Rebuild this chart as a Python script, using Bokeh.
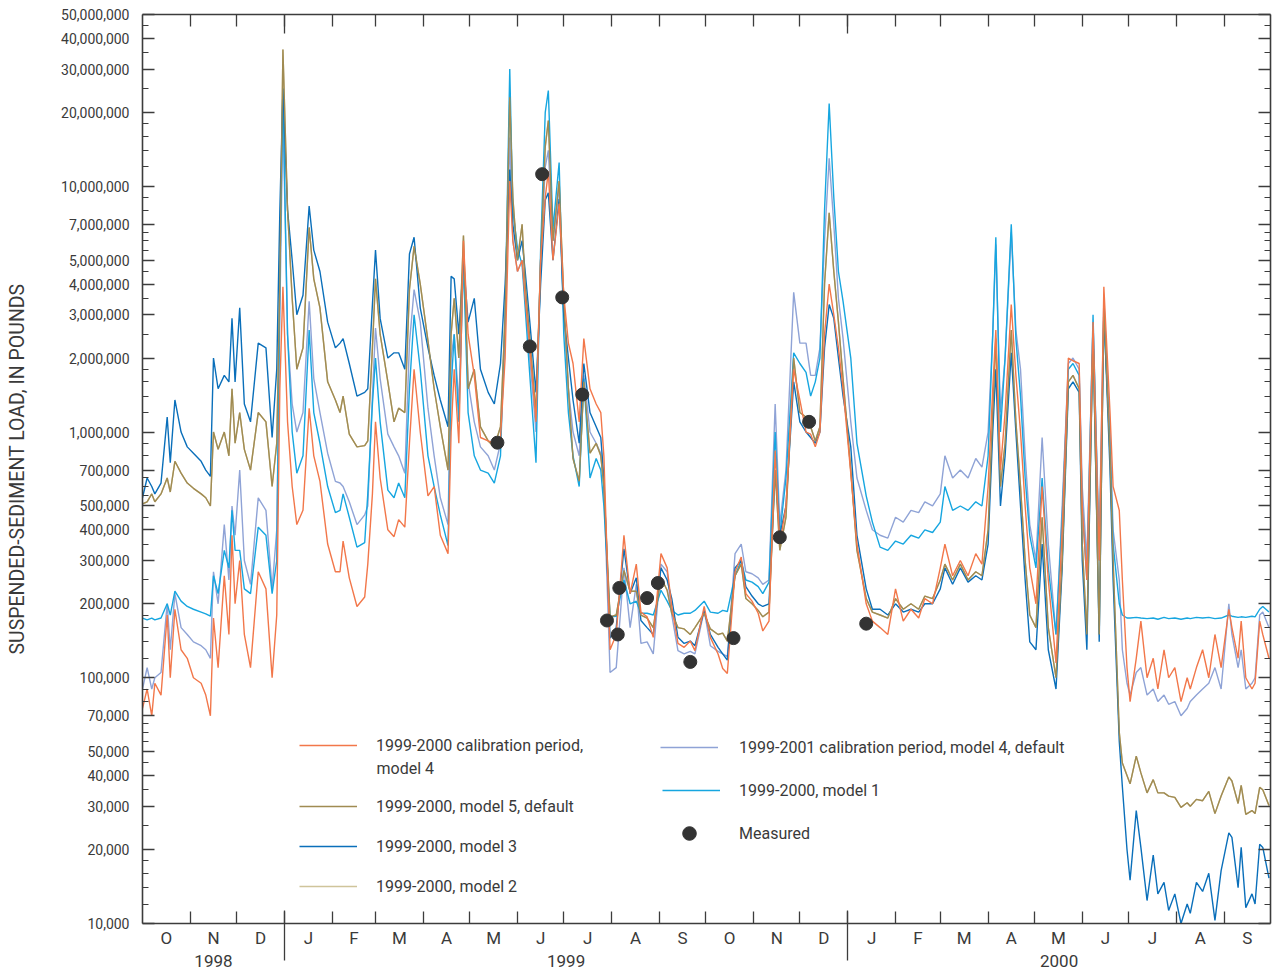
import pandas as pd
from bokeh.plotting import figure
from bokeh.models import (Range1d, LinearAxis, LogAxis, FixedTicker, NumeralTickFormatter,
                          CustomJSTickFormatter, Legend, LegendItem, Label, ColumnDataSource)
from bokeh.embed import file_html
from bokeh.resources import INLINE

# ---------------- data (loads in thousands of pounds) ----------------
start = pd.Timestamp("1998-10-01")
# days since 1 Oct 1998 at which the simulated series were read
days = [0, 3, 6, 8, 12, 16, 18, 21, 25, 29, 33, 38, 41, 44, 46, 49, 53, 56, 58, 60, 63, 66, 70, 75, 80, 84, 87, 89, 91,
        94, 97, 100, 104, 108, 111, 115, 120, 125, 128, 130, 134, 139, 144, 146, 149, 151, 154, 159, 163,
        166, 170, 173, 176, 180, 185, 189, 193, 198, 200, 202, 205, 208, 211, 215, 219, 224, 228, 232, 235,
        238, 240, 243, 246, 248, 251, 255, 258, 261, 263, 266, 270, 273, 276, 279, 283, 286, 290, 294, 297, 299,
        303, 307, 312, 316, 320, 323, 327, 331, 336, 340, 343, 347, 351, 355, 358, 364, 368, 373, 376, 379,
        384, 388, 391, 395, 399, 402, 406, 410, 413, 417, 422, 426, 430, 433, 436, 439, 442, 445, 448, 451, 454, 459,
        463, 469, 473, 478, 483, 488, 493, 498, 503, 507, 512, 517, 520, 525, 530, 535, 540, 544,
        548, 551, 553, 556, 559, 563, 566, 569, 572, 575, 579, 583, 587, 592, 596, 600, 603, 607,
        609, 612, 616, 620, 623, 627, 629, 633,
        635, 638, 640, 644, 647, 651, 655, 658, 662, 665, 669, 673, 677, 679, 683, 687, 691, 695, 699, 704,
        706, 710, 712, 715, 719, 721, 724, 726, 730]

calib_model4 = [75, 90, 70, 95, 85, 180, 100, 190, 130, 120, 100, 95, 85, 70, 175, 110, 260, 150, 380, 200,
                300, 150, 110, 270, 230, 100, 180, 1500, 3900,
                1100, 600, 420, 480, 1250, 800, 630, 350, 270, 270, 360, 255, 195, 213, 290, 560, 1100, 650, 400, 375,
                440, 410, 900, 1800, 1000, 550, 600, 380, 320, 1000, 1800, 900, 6000, 2500, 1700, 950, 920, 900, 950, 2000,
                10500, 6000, 4500, 5000, 3500, 2200, 1100, 5000, 9000, 11500, 5000, 8500, 3600, 2300, 1900, 1100, 2400,
                1500, 1300, 1200, 800,
                130, 150, 380, 220, 290, 185, 177, 146, 320, 280, 195, 138, 133, 141, 129, 195, 146, 125, 109, 104,
                270, 310, 220, 205, 183, 155, 170, 840, 350, 500, 1800, 1350, 1000, 980, 870, 1000, 2500, 4000, 3000,
                2200, 1500, 680,
                350, 200, 170, 160, 150, 230, 170, 190, 175, 210, 200, 280, 350, 260, 300, 260, 320, 290,
                600, 1500, 2600, 700, 1200, 3300, 1700, 1000, 500, 280, 200, 600, 250, 115, 400, 2000, 1950, 1900,
                500, 250, 2800, 300, 3900, 1200, 600, 480,
                250, 110, 80, 120, 170, 100, 120, 90, 130, 100, 110, 80, 100, 90, 110, 130, 100, 150, 110, 190,
                160, 120, 170, 100, 90, 95, 170, 150, 120]

model5_default = [510, 520, 560, 520, 560, 650, 570, 760, 680, 620, 590, 560, 540, 500, 1000, 850, 1000, 800, 1500, 900,
                  1200, 850, 700, 1200, 1100, 600, 900, 4000, 36000,
                  8000, 3500, 1800, 2200, 6800, 4200, 3200, 1600, 1350, 1200, 1400, 980, 870, 880, 920, 2200, 4200, 2500,
                  1600, 1100, 1250, 1200, 3800, 5700, 4000, 2350, 1500, 1050, 700, 2500, 3500, 2000, 6300, 1500, 1800,
                  1050, 920, 870, 1050, 3000,
                  23000, 9000, 5000, 7000, 4000, 2400, 1200, 5000, 14500, 18500, 6000, 10500, 3500, 1500, 780, 630, 1600,
                  820, 900, 800, 600,
                  177, 180, 273, 225, 225, 180, 175, 160, 255, 227, 183, 160, 158, 150, 160, 183, 158, 150, 152, 141,
                  260, 290, 210, 200, 188, 177, 185, 700, 330, 450, 2000, 1200, 1150, 1050, 920, 1050, 4000, 7800, 4500,
                  2800, 1650, 700,
                  330, 210, 185, 180, 175, 210, 190, 200, 190, 215, 210, 250, 290, 250, 290, 250, 270, 260,
                  400, 1200, 2400, 600, 900, 2600, 1100, 600, 300, 180, 160, 450, 160, 100, 300, 1600, 1700, 1500,
                  350, 150, 2500, 150, 3300, 800, 300, 60,
                  45, 40, 37, 48, 41, 34, 38.5, 34, 34, 33, 32.6, 29.7, 31, 30, 32, 31.6, 34.5, 28, 33, 39.5,
                  38, 30.8, 36.5, 27.8, 28.8, 28, 35.8, 35, 30.2]

model3 = [540, 650, 600, 560, 620, 1150, 750, 1350, 1000, 870, 820, 760, 700, 660, 2000, 1500, 1700, 1600, 2900, 1600,
          3200, 1300, 1100, 2300, 2200, 950, 1800, 7900, 25000,
          8000, 5000, 3000, 3600, 8300, 5500, 4500, 2800, 2200, 2300, 2400, 1900, 1400, 1450, 1500, 3300, 5500, 2900,
          2000, 2100, 2100, 1800, 5300, 6200, 3200, 2200, 1700, 1350, 1050, 4300, 4200, 2500, 5000, 2800, 3500,
          1800, 1450, 1300, 1900, 4000,
          11700, 7000, 5000, 6000, 4500, 2800, 1450, 4000, 8800, 9400, 5000, 8900, 3000, 2000, 1350, 900, 1900,
          1200, 1050, 950, 650,
          145, 160, 335, 220, 255, 171, 160, 150, 280, 250, 210, 146, 138, 141, 135, 188, 150, 133, 125, 118,
          280, 300, 235, 215, 200, 195, 200, 700, 380, 500, 1600, 1100, 1000, 950, 900, 1000, 2200, 3300, 2900,
          2000, 1400, 870,
          380, 230, 190, 190, 180, 200, 185, 190, 185, 200, 200, 230, 280, 240, 280, 245, 260, 250,
          350, 1000, 1800, 500, 800, 2100, 1000, 500, 250, 140, 130, 350, 130, 90, 280, 1500, 1600, 1450,
          300, 130, 2500, 140, 3200, 700, 250, 55,
          36, 20, 15, 28.8, 20.4, 12.4, 19, 13.2, 14.7, 11.3, 13.2, 10, 12, 11, 14.7, 13.5, 16, 10.3, 16.4, 23.4,
          22.4, 14, 20.4, 11.6, 13.2, 12, 21, 20.4, 15.3]

# model 2 is drawn beneath model 5 and cannot be told apart from it in the chart
model2 = list(model5_default)

calib_2001_model4 = [90, 110, 90, 100, 105, 200, 130, 220, 160, 150, 140, 135, 130, 120, 270, 200, 420, 250, 500, 380,
                     700, 300, 240, 540, 480, 230, 400, 3000, 20000,
                     2500, 1300, 1000, 1200, 3400, 1650, 1200, 820, 630, 620, 600, 520, 420, 460, 500, 1400, 2650, 1650,
                     980, 870, 800, 680, 2300, 3800, 2800, 1250, 800, 540, 420, 2000, 2500, 1300, 5000, 1600, 1100,
                     870, 800, 700, 900, 2500,
                     15800, 6000, 4500, 5000, 3500, 2000, 1000, 5000, 12000, 14000, 6000, 10000, 3000, 1500, 1000, 800,
                     1700, 1000, 900, 820, 600,
                     105, 110, 280, 160, 240, 138, 140, 125, 290, 270, 180, 129, 125, 128, 125, 188, 135, 128, 125, 122,
                     320, 350, 270, 265, 255, 240, 250, 1300, 420, 700, 3700, 2300, 2300, 1700, 1700, 2200, 6000, 13000,
                     7000, 3500, 2400, 1100,
                     650, 480, 400, 380, 370, 450, 430, 480, 470, 520, 500, 560, 800, 650, 700, 650, 780, 720,
                     1000, 2500, 5800, 1200, 2000, 6500, 2600, 1800, 800, 420, 300, 950, 350, 150, 500, 1900, 2000, 1800,
                     600, 300, 2800, 350, 3500, 1000, 400, 250,
                     130, 95, 85, 105, 110, 85, 90, 80, 85, 78, 80, 70, 75, 80, 85, 90, 95, 110, 90, 200,
                     150, 110, 130, 90, 95, 100, 180, 185, 160]

model1 = [175, 172, 175, 172, 175, 200, 180, 225, 205, 195, 190, 185, 182, 178, 260, 220, 330, 280, 480, 330,
          330, 230, 220, 410, 380, 220, 300, 4000, 25000,
          2500, 1000, 680, 800, 2600, 1200, 900, 600, 470, 480, 560, 450, 340, 355, 560, 1300, 2000, 1100, 580, 540,
          620, 540, 1500, 3000, 1800, 800, 600, 460, 345, 1500, 2500, 1100, 5000, 1200, 800, 700, 680, 620, 800, 3000,
          30000, 8000, 5600, 4800, 3200, 1700, 750, 5500, 20000, 24500, 6700, 12500, 2500, 1200, 800, 600, 1650,
          650, 780, 700, 500,
          177, 178, 250, 200, 205, 183, 183, 180, 227, 205, 188, 180, 183, 183, 188, 205, 185, 183, 188, 186,
          260, 300, 250, 245, 235, 220, 245, 1000, 380, 650, 2100, 1900, 1750, 1400, 1600, 2000, 8000, 21700,
          9000, 4500, 3400, 2000,
          900, 550, 430, 340, 330, 360, 350, 380, 370, 400, 390, 430, 600, 480, 500, 480, 520, 500,
          800, 2500, 6200, 1000, 2000, 7000, 2400, 1400, 650, 380, 280, 650, 280, 150, 450, 1800, 1900, 1700,
          500, 250, 3000, 300, 2900, 900, 350, 200,
          180, 175, 175, 176, 175, 174, 175, 173, 176, 174, 175, 173, 175, 174, 176, 175, 176, 174, 175, 180,
          178, 176, 177, 176, 178, 177, 190, 195, 185]

measured_dates = ["1999-05-19", "1999-06-09", "1999-06-17", "1999-06-30", "1999-07-13", "1999-07-29",
                  "1999-08-05", "1999-08-06", "1999-08-24", "1999-08-31", "1999-09-21", "1999-10-19",
                  "1999-11-18", "1999-12-07", "2000-01-13"]
measured = [905, 2230, 11200, 3530, 1420, 171, 150, 232, 211, 243, 116, 145, 373, 1100, 166]

y_major = [10000, 20000, 30000, 40000, 50000, 70000, 100000, 200000, 300000, 400000, 500000, 700000,
           1000000, 2000000, 3000000, 4000000, 5000000, 7000000, 10000000, 20000000, 30000000, 40000000, 50000000]
y_minor_mult = [1.2, 1.4, 1.6, 1.8, 2.5, 3.5, 4.5, 5.5, 6, 6.5, 8, 9]

for name, s in [("calib_model4", calib_model4), ("model5", model5_default), ("model3", model3),
                ("calib2001", calib_2001_model4), ("model1", model1)]:
    if len(s) != len(days):
        raise ValueError(f"{name}: {len(s)} != {len(days)}")

# ---------------- styling ----------------
FONT = "Roboto"
TEXT = "#3a3a3a"
AXIS = "#3c3c3c"

dates = start + pd.to_timedelta(days, unit="D")
src = ColumnDataSource(dict(
    x=dates,
    m4=[v * 1000 for v in calib_model4],
    m5=[v * 1000 for v in model5_default],
    m3=[v * 1000 for v in model3],
    m2=[v * 1000 for v in model2],
    m4b=[v * 1000 for v in calib_2001_model4],
    m1=[v * 1000 for v in model1],
))
msrc = ColumnDataSource(dict(x=pd.to_datetime(measured_dates), y=[v * 1000 for v in measured]))

x_start = pd.Timestamp("1998-10-01")
x_end = pd.Timestamp("2000-10-01")

p = figure(width=1272, height=976, y_axis_type="log", x_axis_type=None,
           x_range=Range1d(x_start, x_end), y_range=Range1d(10000, 50000000),
           output_backend="svg", toolbar_location=None,
           min_border_left=142, min_border_right=2, min_border_top=14, min_border_bottom=53)
p.outline_line_color = None
p.grid.grid_line_color = None
p.background_fill_color = "white"
p.border_fill_color = "white"

LW = 1.4
r_m2 = p.line("x", "m2", source=src, line_color="#cfc49a", line_width=LW)
r_m4b = p.line("x", "m4b", source=src, line_color="#8fa3d6", line_width=LW)
r_m1 = p.line("x", "m1", source=src, line_color="#16a6e0", line_width=LW)
r_m3 = p.line("x", "m3", source=src, line_color="#0a6fba", line_width=LW)
r_m5 = p.line("x", "m5", source=src, line_color="#a08b52", line_width=LW)
r_m4 = p.line("x", "m4", source=src, line_color="#f2774a", line_width=LW)
r_meas = p.scatter("x", "y", source=msrc, size=13, fill_color="#333333", line_color="#333333")

# ---------------- y axes ----------------
y_minor = [m * 10 ** k for k in range(4, 8) for m in y_minor_mult if m * 10 ** k < 50000000]

ya = p.yaxis[0]
ya.ticker = FixedTicker(ticks=y_major, minor_ticks=y_minor)
ya.formatter = NumeralTickFormatter(format="0,0")
ya.major_tick_in = 12
ya.major_tick_out = 0
ya.minor_tick_in = 6
ya.minor_tick_out = 0
ya.major_label_standoff = 13
ya.major_label_text_font = FONT
ya.major_label_text_font_size = "14px"
ya.major_label_text_color = TEXT
ya.axis_label = "SUSPENDED-SEDIMENT LOAD, IN POUNDS"
ya.axis_label_standoff = 29
ya.axis_label_text_font = FONT
ya.axis_label_text_font_size = "19.5px"
ya.axis_label_text_font_style = "normal"
ya.axis_label_text_color = TEXT
ya.axis_line_color = AXIS
ya.axis_line_width = 1.6
ya.major_tick_line_color = AXIS
ya.minor_tick_line_color = AXIS
ya.major_tick_line_width = 1.3
ya.minor_tick_line_width = 1.2

blank = CustomJSTickFormatter(code="return '';")
ry = LogAxis(ticker=FixedTicker(ticks=y_major, minor_ticks=y_minor), formatter=blank,
             major_tick_in=12, major_tick_out=0, minor_tick_in=6, minor_tick_out=0,
             major_label_standoff=0, major_label_text_font_size="1px",
             axis_line_color=AXIS, axis_line_width=1.6, major_tick_line_color=AXIS,
             minor_tick_line_color=AXIS, major_tick_line_width=1.3, minor_tick_line_width=1.2)
p.add_layout(ry, "right")

# ---------------- x axes ----------------
month_starts = pd.date_range("1998-10-01", "2000-10-01", freq="MS")
month_bounds = list(month_starts[1:-1])
month_mids = [a + (b - a) / 2 for a, b in zip(month_starts[:-1], month_starts[1:])]
year_bounds = [pd.Timestamp("1999-01-01"), pd.Timestamp("2000-01-01")]
seg = [x_start] + year_bounds + [x_end]
year_mids = [a + (b - a) / 2 for a, b in zip(seg[:-1], seg[1:])]


def ms(ts):
    return float(pd.Timestamp(ts).value / 1e6)


top = LinearAxis(ticker=FixedTicker(ticks=[ms(t) for t in year_bounds], minor_ticks=[ms(t) for t in month_bounds]),
                 formatter=blank, major_tick_in=19, major_tick_out=0, minor_tick_in=12, minor_tick_out=0,
                 major_label_standoff=0, major_label_text_font_size="1px",
                 axis_line_color=AXIS, axis_line_width=1.6, major_tick_line_color=AXIS,
                 minor_tick_line_color=AXIS, major_tick_line_width=1.3, minor_tick_line_width=1.3)
p.add_layout(top, "above")

month_fmt = CustomJSTickFormatter(code="return 'JFMAMJJASOND'[new Date(tick).getUTCMonth()];")
bottom1 = LinearAxis(ticker=FixedTicker(ticks=[ms(t) for t in month_mids], minor_ticks=[ms(t) for t in month_bounds]),
                     formatter=month_fmt, major_tick_in=0, major_tick_out=0, minor_tick_in=12, minor_tick_out=0,
                     major_label_standoff=4, major_label_text_font=FONT, major_label_text_font_size="17px",
                     major_label_text_color=TEXT,
                     axis_line_color=AXIS, axis_line_width=1.6, major_tick_line_color=None,
                     minor_tick_line_color=AXIS, minor_tick_line_width=1.3)
p.add_layout(bottom1, "below")

year_fmt = CustomJSTickFormatter(code="return String(new Date(tick).getUTCFullYear());")
bottom2 = LinearAxis(ticker=FixedTicker(ticks=[ms(t) for t in year_mids], minor_ticks=[ms(t) for t in year_bounds]),
                     formatter=year_fmt, major_tick_in=0, major_tick_out=0, minor_tick_in=40, minor_tick_out=10,
                     major_label_standoff=-6, major_label_text_font=FONT, major_label_text_font_size="17px",
                     major_label_text_color=TEXT,
                     axis_line_color=None, major_tick_line_color=None,
                     minor_tick_line_color=AXIS, minor_tick_line_width=1.3)
p.add_layout(bottom2, "below")


# ---------------- legend ----------------
def add_legend(renderer, label, loc, gh=20, standoff=19):
    lg = Legend(items=[LegendItem(label=label, renderers=[renderer])], location=loc,
                glyph_width=58, glyph_height=gh, label_height=gh, label_standoff=standoff,
                padding=0, margin=0, spacing=0, border_line_color=None, background_fill_alpha=0,
                label_text_font=FONT, label_text_font_size="16px", label_text_color=TEXT)
    p.add_layout(lg)


add_legend(r_m4, "1999-2000 calibration period,", (157, 168))
add_legend(r_m5, "1999-2000, model 5, default", (157, 107))
add_legend(r_m3, "1999-2000, model 3", (157, 67))
add_legend(r_m2, "1999-2000, model 2", (157, 27))
add_legend(r_m4b, "1999-2001 calibration period, model 4, default", (518, 166), standoff=21)
add_legend(r_m1, "1999-2000, model 1", (520, 123), standoff=19)
add_legend(r_meas, "Measured", (518, 73), gh=34, standoff=21)

p.add_layout(Label(x=ms("1999-03-01 15:20"), y=42750, text="model 4", text_font=FONT,
                   text_font_size="16px", text_color=TEXT, text_baseline="middle", text_align="left"))

open("out.html", "w").write(file_html(p, INLINE))
